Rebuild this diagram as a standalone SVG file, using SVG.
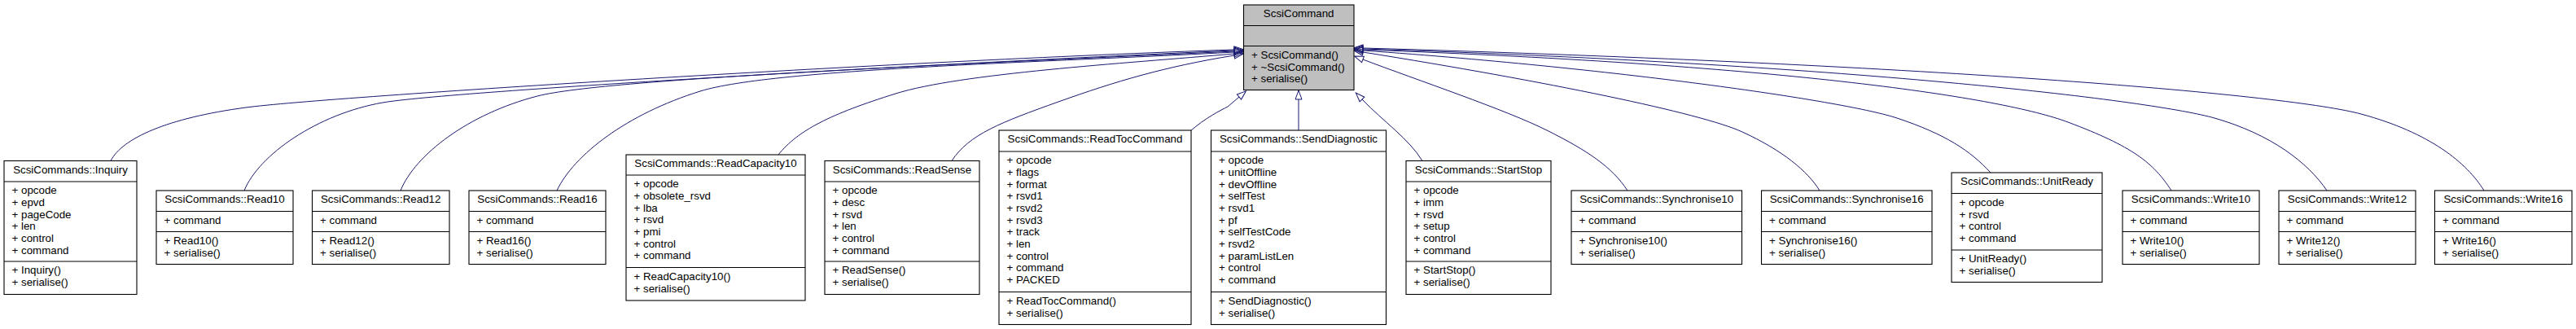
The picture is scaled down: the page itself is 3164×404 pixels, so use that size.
<svg xmlns="http://www.w3.org/2000/svg" width="3164" height="404" viewBox="0 0 3164 404">
<style>
.bg{fill:#fff}
.box{fill:#fff;stroke:#000;stroke-width:1.1}
.main{fill:#bfbfbf}
.sep{stroke:#000;stroke-width:1.1}
text{font-family:"Liberation Sans",Arial,Helvetica,sans-serif;font-size:13.33px;fill:#000}
.c{text-anchor:middle}
.e{fill:none;stroke:#191970;stroke-width:1;marker-end:url(#a)}
</style>
<defs>
<marker id="a" markerUnits="userSpaceOnUse" markerWidth="14" markerHeight="12" refX="0" refY="6" orient="auto" viewBox="0 0 14 12" overflow="visible">
<path d="M0,2 L11,6 L0,10 Z" fill="none" stroke="#191970" stroke-width="1"/>
</marker>
</defs>
<rect class="bg" x="0" y="0" width="3164" height="404"/>
<g id="edges">
<path class="e" d="M136,197.5 C150,170 205,145 302,132 S1100,75 1516,61"/>
<path class="e" d="M300,234 C318,190 390,140 470,126 S1150,78 1516,62"/>
<path class="e" d="M492,234 C510,190 575,140 660,118 S1200,78 1516,63"/>
<path class="e" d="M684,234 C705,190 770,140 860,112 S1300,76 1516,64"/>
<path class="e" d="M956,190 C980,160 1020,140 1100,115 S1380,78 1516,66"/>
<path class="e" d="M1169,197.5 C1190,165 1230,150 1300,125 S1430,82 1516,68"/>
<path class="e" d="M1462,161 C1480,145 1500,135 1508,131 L1522,119"/>
<path class="e" d="M1595,160 L1595,122"/>
<path class="e" d="M1747,197.5 C1730,170 1700,150 1673,122"/>
<path class="e" d="M1999,234 C1980,205 1950,185 1900,160 S1740,98 1674,73"/>
<path class="e" d="M2235,234 C2220,210 2190,185 2140,162 S1900,100 1674,64"/>
<path class="e" d="M2445,212 C2420,185 2390,165 2330,145 S2000,85 1674,62"/>
<path class="e" d="M2667,234 C2645,200 2620,180 2540,150 S2200,80 1674,61"/>
<path class="e" d="M2858,234 C2835,200 2790,165 2720,145 S2300,80 1674,60"/>
<path class="e" d="M3051,234 C3030,200 2985,163 2900,140 S2400,80 1674,59"/>
</g>
<g id="ScsiCommand">
<rect class="box main" x="1527.5" y="6" width="135.5" height="104.5"/>
<line class="sep" x1="1527.5" y1="31.5" x2="1663" y2="31.5"/>
<line class="sep" x1="1527.5" y1="56.5" x2="1663" y2="56.5"/>
<text class="c" x="1595.2" y="21.3">ScsiCommand</text>
<text x="1537"><tspan x="1537" y="71.8">+ ScsiCommand()</tspan><tspan x="1537" y="86.5">+ ~ScsiCommand()</tspan><tspan x="1537" y="101.1">+ serialise()</tspan></text>
</g>
<g id="Inquiry">
<rect class="box" x="5" y="197.5" width="163" height="164"/>
<line class="sep" x1="5" y1="223" x2="168" y2="223"/>
<line class="sep" x1="5" y1="321" x2="168" y2="321"/>
<text class="c" x="86.5" y="212.8">ScsiCommands::Inquiry</text>
<text><tspan x="14.5" y="238.3">+ opcode</tspan><tspan x="14.5" y="253">+ epvd</tspan><tspan x="14.5" y="267.6">+ pageCode</tspan><tspan x="14.5" y="282.3">+ len</tspan><tspan x="14.5" y="297">+ control</tspan><tspan x="14.5" y="311.7">+ command</tspan></text>
<text><tspan x="14.5" y="336.3">+ Inquiry()</tspan><tspan x="14.5" y="351">+ serialise()</tspan></text>
</g>
<g id="Read10">
<rect class="box" x="192" y="234" width="168" height="90.5"/>
<line class="sep" x1="192" y1="259.5" x2="360" y2="259.5"/>
<line class="sep" x1="192" y1="284.5" x2="360" y2="284.5"/>
<text class="c" x="276" y="249.3">ScsiCommands::Read10</text>
<text x="201.5" y="274.8">+ command</text>
<text><tspan x="201.5" y="299.8">+ Read10()</tspan><tspan x="201.5" y="314.5">+ serialise()</tspan></text>
</g>
<g id="Read12">
<rect class="box" x="383.5" y="234" width="168.5" height="90.5"/>
<line class="sep" x1="383.5" y1="259.5" x2="552" y2="259.5"/>
<line class="sep" x1="383.5" y1="284.5" x2="552" y2="284.5"/>
<text class="c" x="467.7" y="249.3">ScsiCommands::Read12</text>
<text x="393" y="274.8">+ command</text>
<text><tspan x="393" y="299.8">+ Read12()</tspan><tspan x="393" y="314.5">+ serialise()</tspan></text>
</g>
<g id="Read16">
<rect class="box" x="576" y="234" width="168" height="90.5"/>
<line class="sep" x1="576" y1="259.5" x2="744" y2="259.5"/>
<line class="sep" x1="576" y1="284.5" x2="744" y2="284.5"/>
<text class="c" x="660" y="249.3">ScsiCommands::Read16</text>
<text x="585.5" y="274.8">+ command</text>
<text><tspan x="585.5" y="299.8">+ Read16()</tspan><tspan x="585.5" y="314.5">+ serialise()</tspan></text>
</g>
<g id="ReadCapacity10">
<rect class="box" x="769" y="190" width="220" height="179"/>
<line class="sep" x1="769" y1="215" x2="989" y2="215"/>
<line class="sep" x1="769" y1="328.5" x2="989" y2="328.5"/>
<text class="c" x="879" y="205.3">ScsiCommands::ReadCapacity10</text>
<text><tspan x="778.5" y="230.3">+ opcode</tspan><tspan x="778.5" y="245">+ obsolete_rsvd</tspan><tspan x="778.5" y="259.6">+ lba</tspan><tspan x="778.5" y="274.3">+ rsvd</tspan><tspan x="778.5" y="289">+ pmi</tspan><tspan x="778.5" y="303.6">+ control</tspan><tspan x="778.5" y="318.3">+ command</tspan></text>
<text><tspan x="778.5" y="343.8">+ ReadCapacity10()</tspan><tspan x="778.5" y="358.5">+ serialise()</tspan></text>
</g>
<g id="ReadSense">
<rect class="box" x="1013" y="197.5" width="190" height="164"/>
<line class="sep" x1="1013" y1="223" x2="1203" y2="223"/>
<line class="sep" x1="1013" y1="321" x2="1203" y2="321"/>
<text class="c" x="1108" y="212.8">ScsiCommands::ReadSense</text>
<text><tspan x="1022.5" y="238.3">+ opcode</tspan><tspan x="1022.5" y="253">+ desc</tspan><tspan x="1022.5" y="267.6">+ rsvd</tspan><tspan x="1022.5" y="282.3">+ len</tspan><tspan x="1022.5" y="297">+ control</tspan><tspan x="1022.5" y="311.7">+ command</tspan></text>
<text><tspan x="1022.5" y="336.3">+ ReadSense()</tspan><tspan x="1022.5" y="351">+ serialise()</tspan></text>
</g>
<g id="ReadTocCommand">
<rect class="box" x="1227" y="160" width="236" height="238.5"/>
<line class="sep" x1="1227" y1="186" x2="1463" y2="186"/>
<line class="sep" x1="1227" y1="358.5" x2="1463" y2="358.5"/>
<text class="c" x="1345" y="175.3">ScsiCommands::ReadTocCommand</text>
<text><tspan x="1236.5" y="201.3">+ opcode</tspan><tspan x="1236.5" y="216">+ flags</tspan><tspan x="1236.5" y="230.6">+ format</tspan><tspan x="1236.5" y="245.3">+ rsvd1</tspan><tspan x="1236.5" y="260">+ rsvd2</tspan><tspan x="1236.5" y="274.6">+ rsvd3</tspan><tspan x="1236.5" y="289.3">+ track</tspan><tspan x="1236.5" y="304">+ len</tspan><tspan x="1236.5" y="318.6">+ control</tspan><tspan x="1236.5" y="333.3">+ command</tspan><tspan x="1236.5" y="348">+ PACKED</tspan></text>
<text><tspan x="1236.5" y="373.8">+ ReadTocCommand()</tspan><tspan x="1236.5" y="388.5">+ serialise()</tspan></text>
</g>
<g id="SendDiagnostic">
<rect class="box" x="1487.5" y="160" width="215" height="238.5"/>
<line class="sep" x1="1487.5" y1="186" x2="1702.5" y2="186"/>
<line class="sep" x1="1487.5" y1="358.5" x2="1702.5" y2="358.5"/>
<text class="c" x="1595" y="175.3">ScsiCommands::SendDiagnostic</text>
<text><tspan x="1497" y="201.3">+ opcode</tspan><tspan x="1497" y="216">+ unitOffline</tspan><tspan x="1497" y="230.6">+ devOffline</tspan><tspan x="1497" y="245.3">+ selfTest</tspan><tspan x="1497" y="260">+ rsvd1</tspan><tspan x="1497" y="274.6">+ pf</tspan><tspan x="1497" y="289.3">+ selfTestCode</tspan><tspan x="1497" y="304">+ rsvd2</tspan><tspan x="1497" y="318.6">+ paramListLen</tspan><tspan x="1497" y="333.3">+ control</tspan><tspan x="1497" y="348">+ command</tspan></text>
<text><tspan x="1497" y="373.8">+ SendDiagnostic()</tspan><tspan x="1497" y="388.5">+ serialise()</tspan></text>
</g>
<g id="StartStop">
<rect class="box" x="1727" y="197.5" width="178" height="164"/>
<line class="sep" x1="1727" y1="223" x2="1905" y2="223"/>
<line class="sep" x1="1727" y1="321" x2="1905" y2="321"/>
<text class="c" x="1816" y="212.8">ScsiCommands::StartStop</text>
<text><tspan x="1736.5" y="238.3">+ opcode</tspan><tspan x="1736.5" y="253">+ imm</tspan><tspan x="1736.5" y="267.6">+ rsvd</tspan><tspan x="1736.5" y="282.3">+ setup</tspan><tspan x="1736.5" y="297">+ control</tspan><tspan x="1736.5" y="311.7">+ command</tspan></text>
<text><tspan x="1736.5" y="336.3">+ StartStop()</tspan><tspan x="1736.5" y="351">+ serialise()</tspan></text>
</g>
<g id="Synchronise10">
<rect class="box" x="1930" y="234" width="209.5" height="90.5"/>
<line class="sep" x1="1930" y1="259.5" x2="2139.5" y2="259.5"/>
<line class="sep" x1="1930" y1="284.5" x2="2139.5" y2="284.5"/>
<text class="c" x="2034.7" y="249.3">ScsiCommands::Synchronise10</text>
<text x="1939.5" y="274.8">+ command</text>
<text><tspan x="1939.5" y="299.8">+ Synchronise10()</tspan><tspan x="1939.5" y="314.5">+ serialise()</tspan></text>
</g>
<g id="Synchronise16">
<rect class="box" x="2163.5" y="234" width="209.5" height="90.5"/>
<line class="sep" x1="2163.5" y1="259.5" x2="2373" y2="259.5"/>
<line class="sep" x1="2163.5" y1="284.5" x2="2373" y2="284.5"/>
<text class="c" x="2268.2" y="249.3">ScsiCommands::Synchronise16</text>
<text x="2173" y="274.8">+ command</text>
<text><tspan x="2173" y="299.8">+ Synchronise16()</tspan><tspan x="2173" y="314.5">+ serialise()</tspan></text>
</g>
<g id="UnitReady">
<rect class="box" x="2397" y="212" width="185" height="134.5"/>
<line class="sep" x1="2397" y1="237.5" x2="2582" y2="237.5"/>
<line class="sep" x1="2397" y1="307" x2="2582" y2="307"/>
<text class="c" x="2489.5" y="227.3">ScsiCommands::UnitReady</text>
<text><tspan x="2406.5" y="252.8">+ opcode</tspan><tspan x="2406.5" y="267.5">+ rsvd</tspan><tspan x="2406.5" y="282.1">+ control</tspan><tspan x="2406.5" y="296.8">+ command</tspan></text>
<text><tspan x="2406.5" y="322.3">+ UnitReady()</tspan><tspan x="2406.5" y="337">+ serialise()</tspan></text>
</g>
<g id="Write10">
<rect class="box" x="2607" y="234" width="168" height="90.5"/>
<line class="sep" x1="2607" y1="259.5" x2="2775" y2="259.5"/>
<line class="sep" x1="2607" y1="284.5" x2="2775" y2="284.5"/>
<text class="c" x="2691" y="249.3">ScsiCommands::Write10</text>
<text x="2616.5" y="274.8">+ command</text>
<text><tspan x="2616.5" y="299.8">+ Write10()</tspan><tspan x="2616.5" y="314.5">+ serialise()</tspan></text>
</g>
<g id="Write12">
<rect class="box" x="2799" y="234" width="168" height="90.5"/>
<line class="sep" x1="2799" y1="259.5" x2="2967" y2="259.5"/>
<line class="sep" x1="2799" y1="284.5" x2="2967" y2="284.5"/>
<text class="c" x="2883" y="249.3">ScsiCommands::Write12</text>
<text x="2808.5" y="274.8">+ command</text>
<text><tspan x="2808.5" y="299.8">+ Write12()</tspan><tspan x="2808.5" y="314.5">+ serialise()</tspan></text>
</g>
<g id="Write16">
<rect class="box" x="2990.5" y="234" width="168.5" height="90.5"/>
<line class="sep" x1="2990.5" y1="259.5" x2="3159" y2="259.5"/>
<line class="sep" x1="2990.5" y1="284.5" x2="3159" y2="284.5"/>
<text class="c" x="3074.7" y="249.3">ScsiCommands::Write16</text>
<text x="3000" y="274.8">+ command</text>
<text><tspan x="3000" y="299.8">+ Write16()</tspan><tspan x="3000" y="314.5">+ serialise()</tspan></text>
</g>
</svg>
